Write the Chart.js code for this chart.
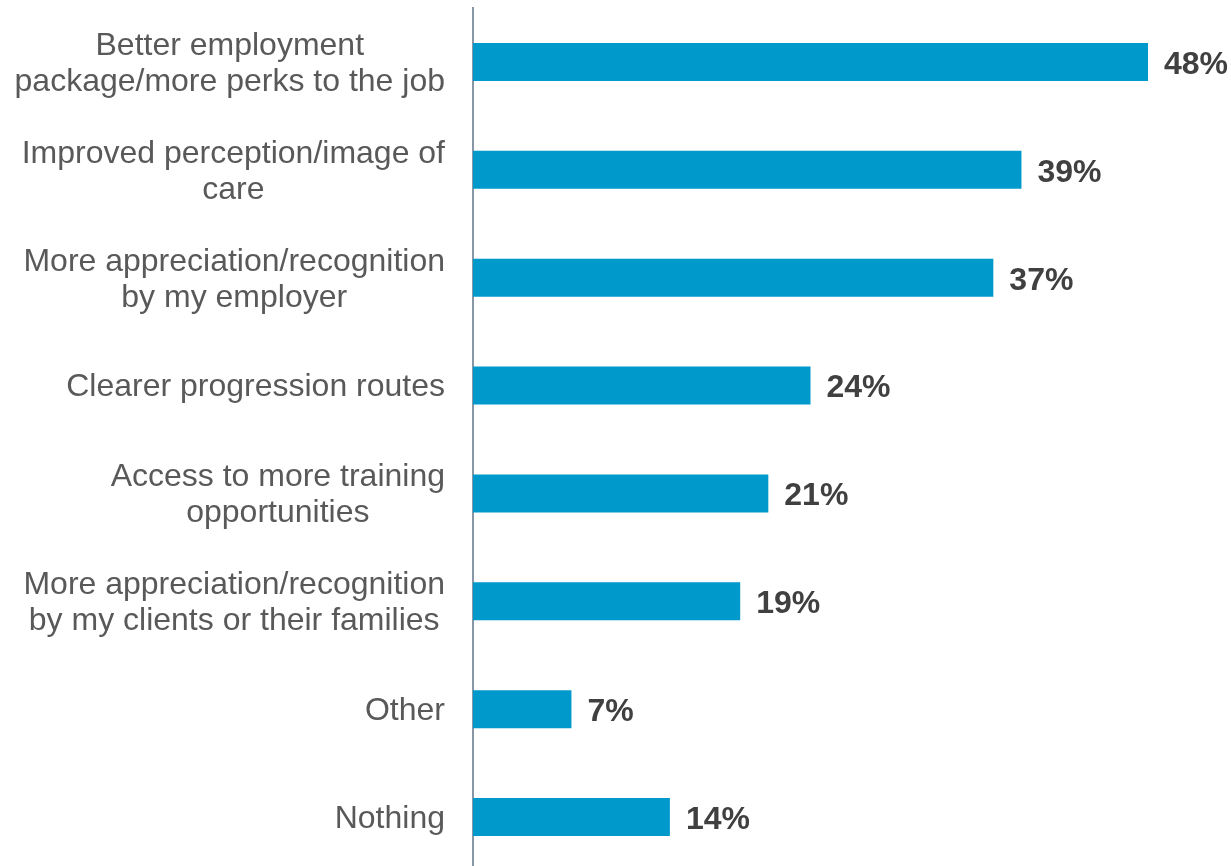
<!DOCTYPE html>
<html>
<head>
<meta charset="utf-8">
<script src="https://cdn.jsdelivr.net/npm/chart.js@4/dist/chart.umd.min.js"></script>
<style>
  html, body { margin: 0; padding: 0; background: #ffffff; overflow: hidden; }
  #wrap { width: 1231px; height: 871px; }
</style>
</head>
<body>
<div id="wrap"><canvas id="chart" width="1231" height="871"></canvas></div>
<script>
// answers, each label split into its printed lines
const categories = [
  ["Better employment", "package/more perks to the job"],
  ["Improved perception/image of", "care"],
  ["More appreciation/recognition", "by my employer"],
  ["Clearer progression routes"],
  ["Access to more training", "opportunities"],
  ["More appreciation/recognition", "by my clients or their families"],
  ["Other"],
  ["Nothing"],
];
// share of respondents, %
const values = [48, 39, 37, 24, 21, 19, 7, 14];

const labelFont = "32px 'Liberation Sans', Arial, sans-serif";
const valueFont = "bold 32px 'Liberation Sans', Arial, sans-serif";

// category names: each block right-aligned to the axis, lines centred inside it
const categoryLabels = {
  id: "categoryLabels",
  afterDraw(chart) {
    const { ctx, chartArea } = chart;
    const yScale = chart.scales.y;
    const lineHeight = 36;
    ctx.save();
    ctx.font = labelFont;
    ctx.fillStyle = "#595959";
    ctx.textAlign = "center";
    ctx.textBaseline = "middle";
    categories.forEach((lines, i) => {
      const widest = Math.max(...lines.map((l) => ctx.measureText(l).width));
      const cx = chartArea.left - 28 - widest / 2;
      const cy = yScale.getPixelForTick(i) + 2;
      const startY = cy - ((lines.length - 1) * lineHeight) / 2;
      lines.forEach((line, j) => ctx.fillText(line, cx, startY + j * lineHeight));
    });
    ctx.restore();
  },
};

// percentage labels just past the end of each bar
const valueLabels = {
  id: "valueLabels",
  afterDatasetsDraw(chart) {
    const { ctx } = chart;
    const meta = chart.getDatasetMeta(0);
    ctx.save();
    ctx.font = valueFont;
    ctx.fillStyle = "#404040";
    ctx.textAlign = "left";
    ctx.textBaseline = "middle";
    meta.data.forEach((bar, i) => {
      ctx.fillText(values[i] + "%", bar.x + 16, bar.y + 3);
    });
    ctx.restore();
  },
};

new Chart(document.getElementById("chart"), {
  type: "bar",
  plugins: [categoryLabels, valueLabels],
  data: {
    labels: categories,
    datasets: [
      {
        data: values,
        backgroundColor: "#0099cc",
        borderWidth: 0,
        barPercentage: 0.352,
        categoryPercentage: 1,
      },
    ],
  },
  options: {
    indexAxis: "y",
    responsive: false,
    animation: false,
    layout: { padding: { top: 8 } },
    plugins: {
      legend: { display: false },
      tooltip: { enabled: false },
    },
    scales: {
      x: {
        display: false,
        min: 0,
        max: 53.9,
      },
      y: {
        afterFit(scale) {
          scale.width = 473;
        },
        grid: { display: false },
        ticks: { display: false },
        border: { display: true, color: "#8797a6", width: 2 },
      },
    },
  },
});
</script>
</body>
</html>
